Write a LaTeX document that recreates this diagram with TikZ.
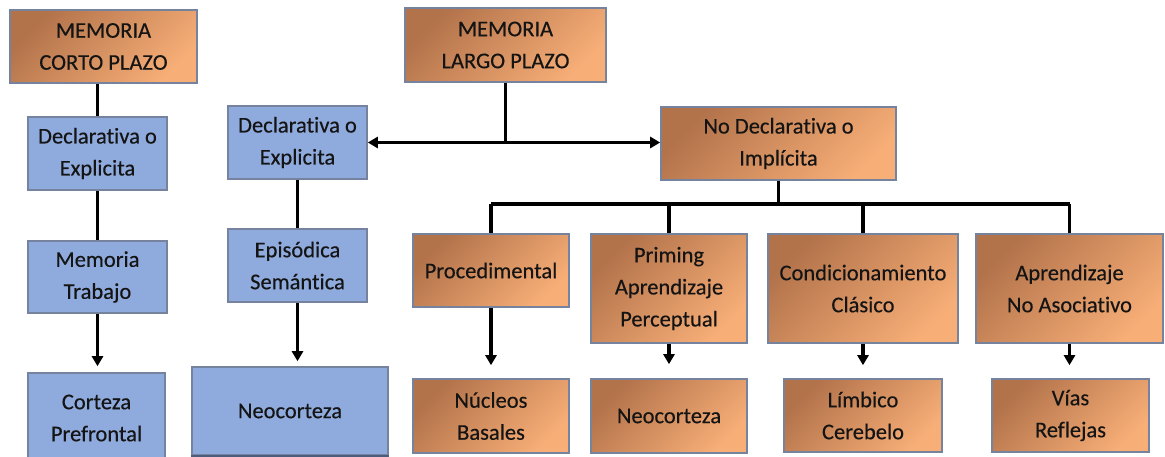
\documentclass[tikz,border=0pt]{standalone}
\usepackage{fontspec}
\setmainfont{Carlito}[Ligatures=CommonOff, FakeBold=0.35]
\usetikzlibrary{arrows.meta}
\definecolor{obdark}{HTML}{B2724A}
\definecolor{oblight}{HTML}{F7AE77}
\definecolor{bfill}{HTML}{8FAADC}
\definecolor{bdr}{HTML}{76839E}
\definecolor{bshadow}{HTML}{4C5C7C}
\definecolor{txt}{HTML}{141414}
\tikzset{
 base/.style={draw=bdr, line width=1.6pt, align=center, inner sep=0pt, font=\fontsize{22.5}{32}\selectfont, text=txt},
 obox/.style={base, top color=obdark, bottom color=oblight, shading angle=45},
 bbox/.style={base, fill=bfill},
 conn/.style={line width=3.2pt, black},
 arr/.style={conn, -{Triangle[width=11pt,length=10pt]}},
 darr/.style={conn, {Triangle[width=11pt,length=10pt]}-{Triangle[width=11pt,length=10pt]}},
}
\begin{document}
\begin{tikzpicture}[x=1pt,y=-1pt]
\useasboundingbox (0,0) rectangle (1165,457);
\clip (0,0) rectangle (1165,457);
\fill[white] (0,0) rectangle (1165,457);
% top
\node[obox, minimum width=187pt, minimum height=73pt] (cp) at (103.5,46.5) {MEMORIA\\CORTO PLAZO};
\node[obox, minimum width=201pt, minimum height=74pt] (lp) at (505.5,45) {MEMORIA\\LARGO PLAZO};
% left column
\node[bbox, minimum width=139pt, minimum height=73pt] (d1) at (97.5,153.5) {Declarativa o\\Explicita};
\node[bbox, minimum width=139pt, minimum height=72pt] (mt) at (97.5,277) {Memoria\\Trabajo};
\node[bbox, minimum width=137pt, minimum height=90pt] (cpf) at (96.5,418) {Corteza\\Prefrontal};
% second column
\node[bbox, minimum width=139pt, minimum height=73pt] (d2) at (297.5,142.5) {Declarativa o\\Explicita};
\node[bbox, minimum width=139pt, minimum height=73pt] (es) at (297.5,265.5) {Episódica\\Semántica};
\node[bbox, minimum width=196pt, minimum height=88pt] (neo1) at (290,411) {Neocorteza};
\draw[bshadow, line width=2.2pt] (neo1.south west) -- (neo1.south east);
% implicit
\node[obox, minimum width=235pt, minimum height=73pt] (nd) at (778.5,143.5) {No Declarativa o\\Implícita};
\node[obox, minimum width=156pt, minimum height=73pt] (pr) at (491,270.5) {Procedimental};
\node[obox, minimum width=156pt, minimum height=109pt] (pa) at (669,288.5) {Priming\\Aprendizaje\\Perceptual};
\node[obox, minimum width=190pt, minimum height=109pt] (cc) at (863,288.5) {Condicionamiento\\Clásico};
\node[obox, minimum width=187pt, minimum height=109pt] (an) at (1069.5,288.5) {Aprendizaje\\No Asociativo};
\node[obox, minimum width=156pt, minimum height=74pt] (nb) at (491,416) {Núcleos\\Basales};
\node[obox, minimum width=156pt, minimum height=74pt] (neo2) at (669,416) {Neocorteza};
\node[obox, minimum width=158pt, minimum height=73pt] (lc) at (863,415.5) {Límbico\\Cerebelo};
\node[obox, minimum width=157pt, minimum height=73pt] (vr) at (1070.5,415.5) {Vías\\Reflejas};
% connectors
\draw[conn] (d1.north |- cp.south) -- (d1.north);
\draw[conn] (d1.south) -- (mt.north);
\draw[arr, shorten >=6pt] (mt.south) -- (mt.south |- cpf.north);
\draw[conn] (d2.south) -- (es.north);
\draw[arr, shorten >=5pt] (es.south) -- (es.south |- neo1.north);
\coordinate (lpj) at (lp.south |- d2.east);
\draw[conn] (lp.south) -- (lpj);
\draw[darr] (d2.east) -- (d2.east -| nd.west);
\coordinate (bus) at (nd.south |- 0,204);
\draw[conn] (nd.south) -- (bus);
\draw[conn] (pr.north |- bus) -- (an.north |- bus);
\draw[conn] (pr.north |- bus) -- (pr.north);
\draw[conn] (pa.north |- bus) -- (pa.north);
\draw[conn] (cc.north |- bus) -- (cc.north);
\draw[conn] (an.north |- bus) -- (an.north);
\draw[arr, shorten >=13pt] (pr.south) -- (nb.north);
\draw[arr, shorten >=14pt] (pa.south) -- (neo2.north);
\draw[arr, shorten >=13pt] (cc.south) -- (lc.north);
\draw[arr, shorten >=13pt] (an.south) -- (an.south |- vr.north);
\end{tikzpicture}
\end{document}
